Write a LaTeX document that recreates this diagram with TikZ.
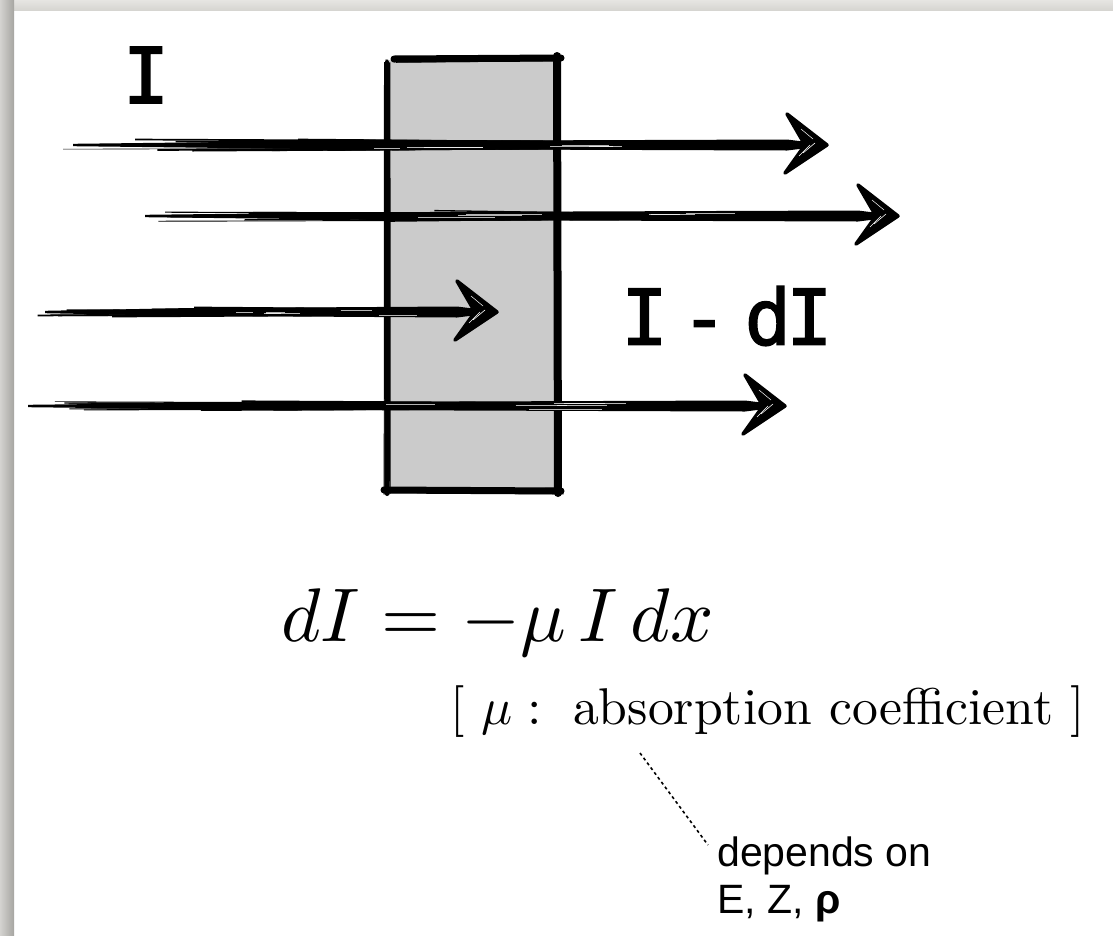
\documentclass[tikz,border=0pt]{standalone}
\usepackage{fontspec}
\usetikzlibrary{calc}
\newfontfamily\handfont{DejaVu Sans Mono}[FakeBold=2]
\newfontfamily\helvfont{Liberation Sans}
\definecolor{slabgray}{RGB}{203,203,203}
\definecolor{frameA}{RGB}{230,229,226}
\definecolor{frameB}{RGB}{214,213,209}
\definecolor{frameC}{RGB}{212,211,208}
\definecolor{frameD}{RGB}{166,165,161}

\newcommand{\sketcharrow}[4]{%
  \coordinate (#1s) at (#2,#3);
  \coordinate (#1t) at (#4,#3);
  \fill ($(#1s)+(0,-1.2)$) -- ($(#1s)!0.3!(#1t)+(0,-3.8)$) -- ($(#1t)+(-40,-5.5)$) -- ($(#1t)+(-20,-3)$) -- ($(#1t)+(-20,3)$) -- ($(#1t)+(-40,5.5)$) -- ($(#1s)!0.3!(#1t)+(0,3.8)$) -- ($(#1s)+(0,1.2)$) -- cycle;
  \foreach \k in {1,...,16}{%
    \pgfmathsetmacro{\sDy}{rand*5.8}%
    \pgfmathsetmacro{\sA}{rnd*0.45-0.02}%
    \pgfmathsetmacro{\sB}{0.55+rnd*0.4}%
    \pgfmathsetmacro{\sW}{0.4+rnd*1.4}%
    \draw[line width=\sW pt] ($(#1s)!\sA!(#1t)+(0,\sDy)$) -- ($(#1s)!\sB!(#1t)+(0,\sDy*0.6)$);
  }
  \foreach \k in {1,...,6}{%
    \pgfmathsetmacro{\sDy}{rand*3}%
    \pgfmathsetmacro{\sA}{0.35+rnd*0.4}%
    \pgfmathsetmacro{\sB}{\sA+0.03+rnd*0.08}%
    \draw[white, line width=0.5pt, opacity=0.7] ($(#1s)!\sA!(#1t)+(0,\sDy)$) -- ($(#1s)!\sB!(#1t)+(0,\sDy)$);
  }
  \filldraw[line width=3.5pt, line join=round] (#1t) -- ($(#1t)+(-40,-31)$) -- ($(#1t)+(-22,0)$) -- ($(#1t)+(-42,28)$) -- cycle;
  \draw[white, line width=0.6pt] ($(#1t)+(-12,-2)$) -- ($(#1t)+(-24,8)$);
  \draw[white, line width=0.5pt] ($(#1t)+(-17,0)$) -- ($(#1t)+(-28,11)$);
  \draw[white, line width=0.5pt] ($(#1t)+(-14,-6)$) -- ($(#1t)+(-26,-16)$);
}

\newcommand{\brush}[3]{%
  \draw[line width=#3pt, line cap=round] #1 -- #2;
  \foreach \k in {1,...,8}{%
    \pgfmathsetmacro{\sW}{0.4+rnd*1.4}%
    \pgfmathsetmacro{\sX}{rand*3}\pgfmathsetmacro{\sY}{rand*3}%
    \pgfmathsetmacro{\sXb}{rand*3}\pgfmathsetmacro{\sYb}{rand*3}%
    \draw[line width=\sW pt] ($#1+(\sX,\sY)$) -- ($#2+(\sXb,\sYb)$);
  }%
}

\tikzset{
  handtext/.style={font=\handfont\fontsize{77}{80}\selectfont, inner sep=0pt},
  mathtext/.style={inner sep=0pt},
  sidetext/.style={font=\helvfont\fontsize{41}{47}\selectfont, inner sep=0pt},
  leader/.style={dash pattern=on 3pt off 3pt, line width=1.6pt}
}

\begin{document}
\begin{tikzpicture}[x=1pt,y=-1pt]
\pgfmathsetseed{7}
\useasboundingbox (0,0) rectangle (1113,935);
\fill[white] (0,0) rectangle (1113,935);
\shade[top color=frameA, bottom color=frameB] (0,0) rectangle (1113,10);
\shade[left color=frameC, right color=frameD] (0,0) rectangle (14,935);

% slab
\fill[slabgray] (388,60) rectangle (556,489);
\brush{(394,59)}{(561,58)}{7}
\brush{(557,56)}{(558,493)}{8}
\brush{(387,62)}{(387,494)}{4}
\brush{(384,490)}{(561,491)}{7}

% arrows
\sketcharrow{aA}{73}{145}{827}
\sketcharrow{aB}{145}{216}{898}
\sketcharrow{aC}{45}{312}{497}
\sketcharrow{aD}{28}{406}{785}

% labels
\node[handtext] (lblI) at (146,75) {I};
\node[handtext] (lblIdI) at (727,316) {I\kern-33pt{} -\kern-29pt{} d\kern-5pt I};

\node[mathtext, anchor=base west] (eq) at (281,641) {\scalebox{7.6}{$dI = -\mu\, I\, dx$}};
\node[mathtext, anchor=base east] (coef) at (1085,724) {\scalebox{5.17}{$[\ \mu : \mbox{\ absorption coefficient\ }]$}};

\node[sidetext, anchor=base west] (dep) at (717,866) {\vtop{\hbox{depends on}\hbox{E, Z, \textbf{ρ}}}};
\coordinate (dotS) at (640,753);
\coordinate (dotE) at (708,845);
\draw[leader] (dotS) -- (dotE);
\end{tikzpicture}
\end{document}
